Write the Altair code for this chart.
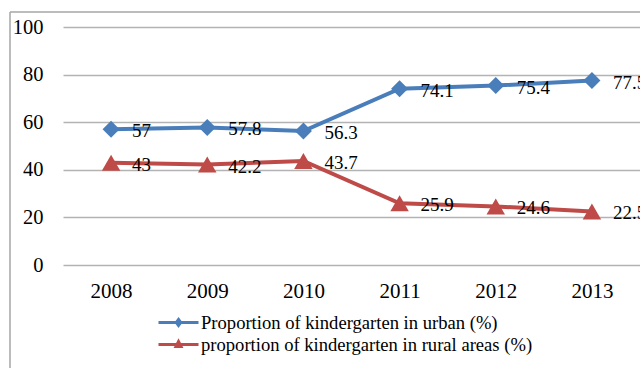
import altair as alt
import pandas as pd

years = ["2008", "2009", "2010", "2011", "2012", "2013"]
urban = [57, 57.8, 56.3, 74.1, 75.4, 77.5]
rural = [43, 42.2, 43.7, 25.9, 24.6, 22.5]
s_urban = "Proportion of kindergarten in urban (%)"
s_rural = "proportion of kindergarten in rural areas (%)"
series_names = [s_urban, s_rural]
colors = ["#4A7EBB", "#BE4B48"]
y_ticks = [0, 20, 40, 60, 80, 100]

rows = []
for y, v in zip(years, urban):
    rows.append({"year": y, "value": v, "series": s_urban, "label": f"{v:g}"})
for y, v in zip(years, rural):
    rows.append({"year": y, "value": v, "series": s_rural, "label": f"{v:g}"})
df = pd.DataFrame(rows)

FONT = "'Liberation Serif', 'Times New Roman', serif"

x_enc = alt.X("year:O", scale=alt.Scale(type="point", padding=0.5), title=None,
              axis=alt.Axis(labelAngle=0, domain=False, ticks=False, grid=False,
                            labelFontSize=21, labelFont=FONT, labelColor="black",
                            labelPadding=15))
y_enc = alt.Y("value:Q", scale=alt.Scale(domain=[0, 100], nice=False), title=None,
              axis=alt.Axis(values=y_ticks, domain=False, ticks=False, grid=True,
                            gridColor="#b3b3b3", gridWidth=1.5,
                            labelFontSize=20.5, labelFont=FONT, labelColor="black",
                            labelPadding=20))
color_scale = alt.Scale(domain=series_names, range=colors)

legend_paths = [
    "M-2,0H2M0,-0.3L0.22,0L0,0.3L-0.22,0Z",
    "M-2,0H2M0,-0.3L0.25,0.2L-0.25,0.2Z",
]
shared_legend = alt.Legend(title=None, orient="none", legendX=104, legendY=284,
                           symbolSize=400, symbolStrokeWidth=3, symbolOpacity=1,
                           labelFont=FONT, labelFontSize=18.6, labelColor="black",
                           labelOffset=11, rowPadding=0, padding=0,
                           labelLimit=500)

base = alt.Chart(df)

lines = base.mark_line(strokeWidth=4).encode(
    x=x_enc, y=y_enc,
    color=alt.Color("series:N", scale=color_scale, legend=shared_legend),
    detail="series:N",
)

pts_u = base.transform_filter(alt.datum.series == s_urban).mark_point(
    shape="diamond", filled=True, size=290, opacity=1, color=colors[0]
).encode(x="year:O", y="value:Q")

pts_r = base.transform_filter(alt.datum.series == s_rural).mark_point(
    shape="triangle-up", filled=True, size=340, opacity=1, color=colors[1]
).encode(x="year:O", y="value:Q")

labels = base.mark_text(
    align="left", baseline="middle", dx=21, dy=2, fontSize=19, font=FONT, color="black"
).encode(x="year:O", y="value:Q", text="label:N")

legend_layer = base.mark_point(opacity=0, filled=False, strokeWidth=3).encode(
    x="year:O", y="value:Q",
    color=alt.Color("series:N", scale=color_scale, legend=shared_legend),
    shape=alt.Shape("series:N", scale=alt.Scale(domain=series_names, range=legend_paths),
                    legend=shared_legend),
)

border_df = pd.DataFrame({"a": [0]})
border_left = alt.Chart(border_df).mark_rule(color="#a6a6a6", strokeWidth=1.5).encode(
    x=alt.value(-53), y=alt.value(-15), y2=alt.value(400))
border_top = alt.Chart(border_df).mark_rule(color="#a6a6a6", strokeWidth=1.5).encode(
    x=alt.value(-53), x2=alt.value(700), y=alt.value(-15))

chart = alt.layer(
    border_left, border_top, lines, pts_u, pts_r, labels, legend_layer
).properties(
    width=577, height=238,
    autosize=alt.AutoSizeParams(type="none"),
    padding={"left": 63, "top": 27, "right": 0, "bottom": 103},
    background="white",
).configure_view(stroke=None)

chart.save("out.html", embed_options={"renderer": "svg", "actions": False})
